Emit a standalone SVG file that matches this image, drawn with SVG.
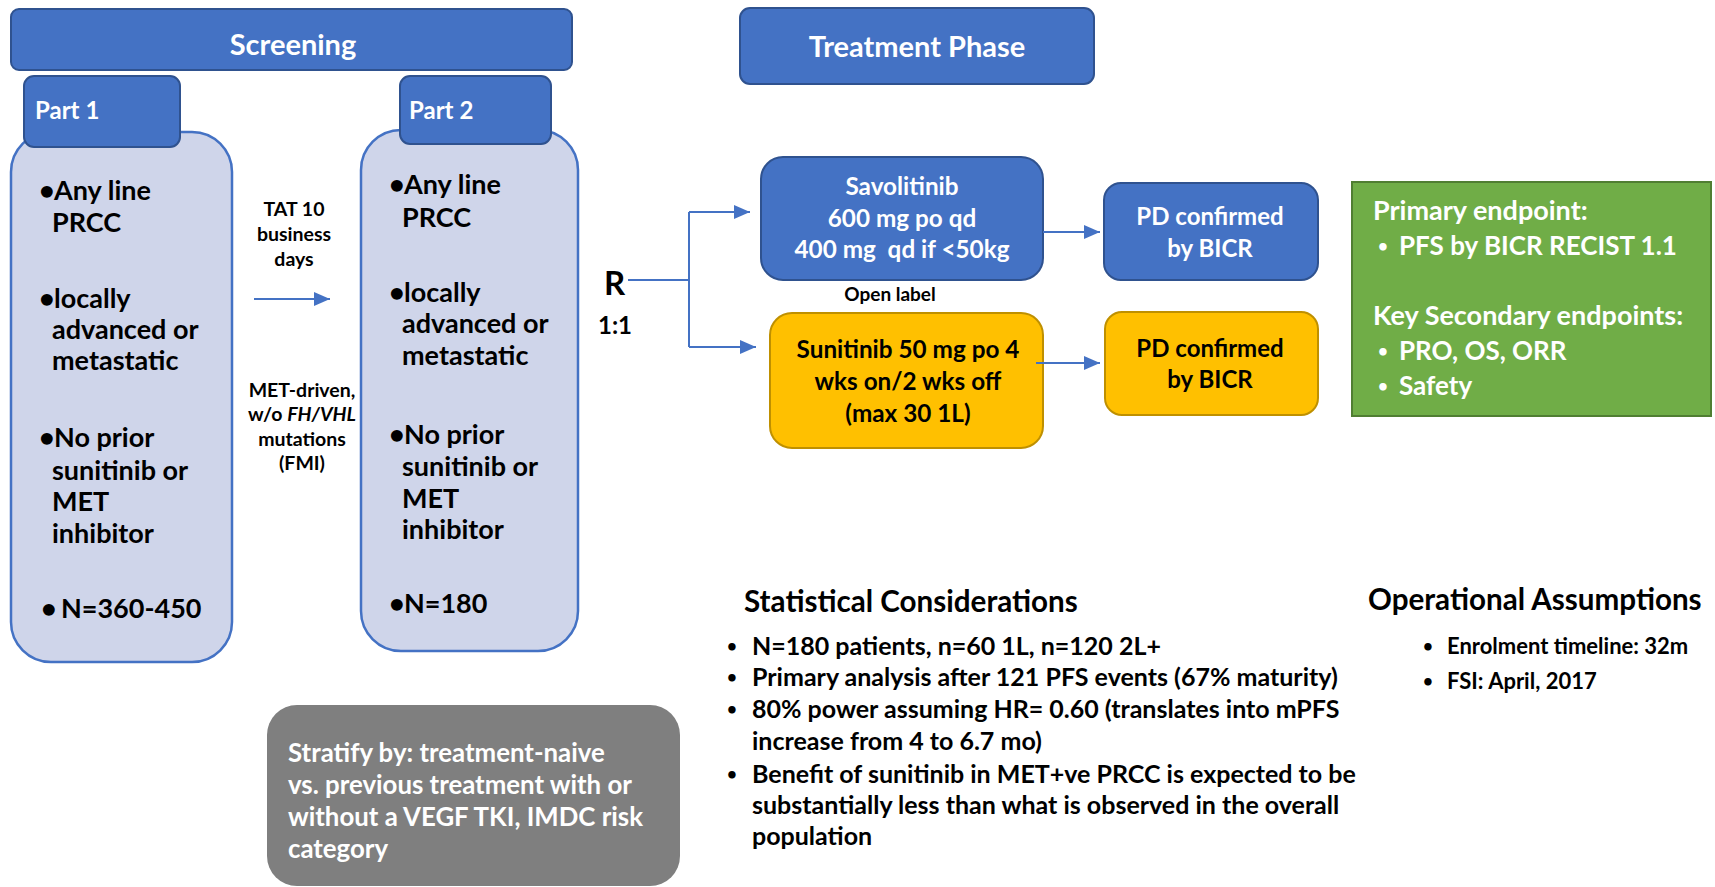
<svg xmlns="http://www.w3.org/2000/svg" width="1715" height="887" viewBox="0 0 1715 887">
  <style>
    text { font-family: Lato, "Open Sans", "Liberation Sans", sans-serif; font-weight: bold; }
    .hdr { fill: #4472C4; stroke: #2F528F; stroke-width: 2; }
    .body { fill: #CFD5EA; stroke: #4472C4; stroke-width: 2.5; }
    .org { fill: #FFC000; stroke: #BF9000; stroke-width: 2; }
    .grn { fill: #70AD47; stroke: #507E32; stroke-width: 2; }
    .gry { fill: #7F7F7F; }
    .w { fill: #FFFFFF; }
    .k { fill: #000000; }
    .c { text-anchor: middle; }
    .big { font-size: 29px; }
    .tab { font-size: 24px; }
    .lst { font-size: 27px; }
    .sm { font-size: 19.5px; }
    .box { font-size: 24.3px; }
    .pd { font-size: 24px; }
    .ep { font-size: 26px; }
    .eph { font-size: 27px; }
    .st { font-size: 25px; }
    .ttl { font-size: 29.6px; }
    .dot { font-size: 17px; }
    .conn { fill: none; stroke: #4472C4; stroke-width: 2; }
  </style>
  <defs>
    <marker id="arr" markerUnits="userSpaceOnUse" markerWidth="16" markerHeight="14" refX="16" refY="7" orient="auto">
      <path d="M0,0 L16,7 L0,14 z" fill="#4472C4"/>
    </marker>
  </defs>

  <!-- Screening header -->
  <g id="screening">
    <rect class="hdr" x="11" y="9" width="561" height="61" rx="8"/>
    <text class="w c big" x="293" y="55">Screening</text>
  </g>

  <!-- Treatment phase header -->
  <g id="treatment-phase">
    <rect class="hdr" x="740" y="8" width="354" height="76" rx="10"/>
    <text class="w c big" x="917" y="57">Treatment Phase</text>
  </g>

  <!-- Part 1 -->
  <g id="part1">
    <rect class="body" x="11" y="132" width="221" height="530" rx="40"/>
    <rect class="hdr" x="24" y="76" width="156" height="71" rx="10"/>
    <text class="w tab" x="35" y="119">Part 1</text>
    <g class="k lst">
      <text x="39" y="200">•</text><text x="54" y="200">Any line</text>
      <text x="52" y="232">PRCC</text>
      <text x="39" y="308">•</text><text x="54" y="308">locally</text>
      <text x="52" y="339">advanced or</text>
      <text x="52" y="370">metastatic</text>
      <text x="39" y="447">•</text><text x="54" y="447">No prior</text>
      <text x="52" y="480">sunitinib or</text>
      <text x="52" y="511">MET</text>
      <text x="52" y="543">inhibitor</text>
      <text x="41" y="618">•</text><text x="61" y="618">N=360-450</text>
    </g>
  </g>

  <!-- Part 2 -->
  <g id="part2">
    <rect class="body" x="361" y="130" width="217" height="521" rx="40"/>
    <rect class="hdr" x="400" y="76" width="151" height="68" rx="10"/>
    <text class="w tab" x="409" y="119">Part 2</text>
    <g class="k lst">
      <text x="389" y="194">•</text><text x="404" y="194">Any line</text>
      <text x="402" y="227">PRCC</text>
      <text x="389" y="302">•</text><text x="404" y="302">locally</text>
      <text x="402" y="333">advanced or</text>
      <text x="402" y="365">metastatic</text>
      <text x="389" y="444">•</text><text x="404" y="444">No prior</text>
      <text x="402" y="476">sunitinib or</text>
      <text x="402" y="508">MET</text>
      <text x="402" y="539">inhibitor</text>
      <text x="389" y="613">•</text><text x="404" y="613">N=180</text>
    </g>
  </g>

  <!-- Transfer labels -->
  <g id="tat-label" class="k c sm">
    <text x="294" y="216">TAT 10</text>
    <text x="294" y="241">business</text>
    <text x="294" y="266">days</text>
  </g>
  <g id="met-label" class="k c sm">
    <text x="302" y="397">MET-driven,</text>
    <text x="302" y="421">w/o <tspan font-style="italic">FH/VHL</tspan></text>
    <text x="302" y="446">mutations</text>
    <text x="302" y="470">(FMI)</text>
  </g>

  <!-- Randomisation -->
  <g id="randomisation" class="k">
    <text x="604" y="295" font-size="33">R</text>
    <text x="598" y="334" font-size="24">1:1</text>
  </g>

  <!-- Arms -->
  <g id="savolitinib">
    <rect class="hdr" x="761" y="157" width="282" height="123" rx="22"/>
    <text class="w c box" x="902" y="195">Savolitinib</text>
    <text class="w c box" x="902" y="227">600 mg po qd</text>
    <text class="w c box" x="902" y="258" xml:space="preserve">400 mg  qd if &lt;50kg</text>
  </g>
  <g id="open-label">
    <text class="k c" x="890" y="301" font-size="19">Open label</text>
  </g>
  <g id="sunitinib">
    <rect class="org" x="770" y="313" width="273" height="135" rx="22"/>
    <text class="k c box" x="908" y="358">Sunitinib 50 mg po 4</text>
    <text class="k c box" x="908" y="390">wks on/2 wks off</text>
    <text class="k c box" x="908" y="422">(max 30 1L)</text>
  </g>

  <!-- Progression boxes -->
  <g id="pd-savolitinib">
    <rect class="hdr" x="1104" y="183" width="214" height="97" rx="17"/>
    <text class="w c pd" x="1210" y="225">PD confirmed</text>
    <text class="w c pd" x="1210" y="257">by BICR</text>
  </g>
  <g id="pd-sunitinib">
    <rect class="org" x="1105" y="312" width="213" height="103" rx="17"/>
    <text class="k c pd" x="1210" y="357">PD confirmed</text>
    <text class="k c pd" x="1210" y="388">by BICR</text>
  </g>

  <!-- Endpoints -->
  <g id="endpoints" class="w">
    <rect class="grn" x="1352" y="182" width="359" height="234"/>
    <text class="eph" x="1373" y="220">Primary endpoint:</text>
    <text class="dot" x="1378" y="252">•</text><text class="ep" x="1399" y="255">PFS by BICR RECIST 1.1</text>
    <text class="eph" x="1373" y="325">Key Secondary endpoints:</text>
    <text class="dot" x="1378" y="357">•</text><text class="ep" x="1399" y="360">PRO, OS, ORR</text>
    <text class="dot" x="1378" y="392">•</text><text class="ep" x="1399" y="395">Safety</text>
  </g>

  <!-- Stratification -->
  <g id="stratify">
    <rect class="gry" x="267" y="705" width="413" height="181" rx="30"/>
    <g class="w" font-size="25.8">
      <text x="288" y="762">Stratify by: treatment-naive</text>
      <text x="288" y="794">vs. previous treatment with or</text>
      <text x="288" y="826">without a VEGF TKI, IMDC risk</text>
      <text x="288" y="858">category</text>
    </g>
  </g>

  <!-- Statistics -->
  <g id="statistics" class="k">
    <text class="ttl" x="744" y="612">Statistical Considerations</text>
    <text class="dot" x="727" y="652">•</text><text class="st" x="752" y="655">N=180 patients, n=60 1L, n=120 2L+</text>
    <text class="dot" x="727" y="683">•</text><text class="st" x="752" y="686">Primary analysis after 121 PFS events (67% maturity)</text>
    <text class="dot" x="727" y="715">•</text><text class="st" x="752" y="718">80% power assuming HR= 0.60 (translates into mPFS</text>
    <text class="st" x="752" y="750">increase from 4 to 6.7 mo)</text>
    <text class="dot" x="727" y="780">•</text><text class="st" x="752" y="783">Benefit of sunitinib in MET+ve PRCC is expected to be</text>
    <text class="st" x="752" y="814">substantially less than what is observed in the overall</text>
    <text class="st" x="752" y="845">population</text>
  </g>

  <!-- Operations -->
  <g id="operations" class="k">
    <text class="ttl" x="1368" y="610">Operational Assumptions</text>
    <text class="dot" x="1423" y="652" font-size="15">•</text><text x="1447" y="654" font-size="22">Enrolment timeline: 32m</text>
    <text class="dot" x="1423" y="687" font-size="15">•</text><text x="1447" y="689" font-size="22">FSI: April, 2017</text>
  </g>

  <!-- Connectors -->
  <g id="connectors" class="conn">
    <path d="M254,299 H330" marker-end="url(#arr)"/>
    <path d="M628,280 H689 M689,212 V347"/>
    <path d="M689,212 H750" marker-end="url(#arr)"/>
    <path d="M689,347 H756" marker-end="url(#arr)"/>
    <path d="M1043,232 H1100" marker-end="url(#arr)"/>
    <path d="M1036,363 H1100" marker-end="url(#arr)"/>
  </g>
</svg>
